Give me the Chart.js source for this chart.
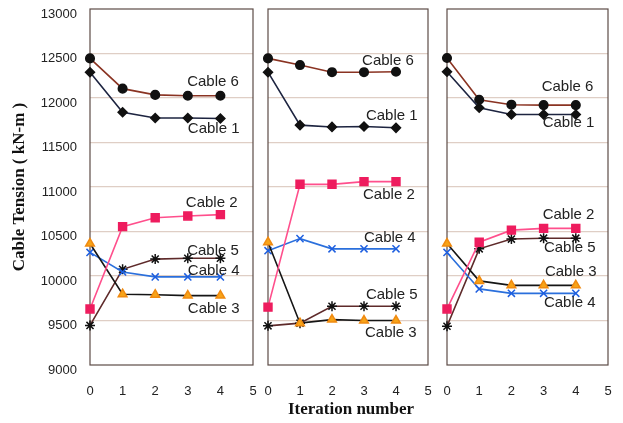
<!DOCTYPE html>
<html>
<head>
<meta charset="utf-8">
<script src="https://cdn.jsdelivr.net/npm/chart.js@4/dist/chart.umd.min.js"></script>
<style>
  html, body { margin: 0; padding: 0; background: #ffffff; }
  #wrap { position: relative; width: 623px; height: 423px; overflow: hidden; background: #ffffff; }
  canvas { position: absolute; top: 0; }
  #xtitle {
    position: absolute; top: 399px; left: 351px; transform: translateX(-50%);
    font-family: "Liberation Serif", "DejaVu Serif", serif; font-weight: bold; font-size: 17px;
    color: #111; white-space: nowrap;
  }
</style>
</head>
<body>
<div id="wrap">
  <canvas id="c1" width="263" height="423" style="left:0px"></canvas>
  <canvas id="c2" width="180" height="423" style="left:258px"></canvas>
  <canvas id="c3" width="181" height="423" style="left:437px"></canvas>
  <div id="xtitle">Iteration number</div>
</div>
<script>
// Iteration steps and axis ticks
const iterations = [0, 1, 2, 3, 4];
const xTickValues = [0, 1, 2, 3, 4, 5];
const yTickValues = [9000, 9500, 10000, 10500, 11000, 11500, 12000, 12500, 13000];
const cableNames = ['Cable 1', 'Cable 2', 'Cable 3', 'Cable 4', 'Cable 5', 'Cable 6'];

// Cable tensions (kN-m), left panel
const p1Cable1 = [12290, 11840, 11775, 11775, 11770];
const p1Cable2 = [9630, 10555, 10655, 10675, 10690];
const p1Cable3 = [10365, 9795, 9790, 9780, 9780];
const p1Cable4 = [10265, 10045, 9990, 9990, 9990];
const p1Cable5 = [9445, 10075, 10190, 10200, 10200];
const p1Cable6 = [12445, 12105, 12035, 12025, 12025];

// Cable tensions (kN-m), middle panel
const p2Cable1 = [12290, 11695, 11675, 11680, 11665];
const p2Cable2 = [9650, 11030, 11030, 11060, 11060];
const p2Cable3 = [10380, 9470, 9510, 9500, 9500];
const p2Cable4 = [10285, 10420, 10305, 10305, 10305];
const p2Cable5 = [9440, 9470, 9660, 9660, 9660];
const p2Cable6 = [12445, 12370, 12290, 12290, 12295];

// Cable tensions (kN-m), right panel
const p3Cable1 = [12295, 11890, 11815, 11815, 11815];
const p3Cable2 = [9630, 10380, 10515, 10535, 10535];
const p3Cable3 = [10365, 9945, 9895, 9895, 9895];
const p3Cable4 = [10265, 9855, 9805, 9805, 9805];
const p3Cable5 = [9435, 10305, 10415, 10425, 10425];
const p3Cable6 = [12450, 11980, 11925, 11920, 11920];

// Where each cable name is written, in axis units (iteration, kN-m)
const labelSpots = [
  { 'Cable 6': [2.98, 12180], 'Cable 1': [3.0, 11652], 'Cable 2': [2.94, 10820],
    'Cable 5': [2.98, 10284], 'Cable 4': [3.0, 10060], 'Cable 3': [3.0, 9629] },
  { 'Cable 6': [2.94, 12419], 'Cable 1': [3.06, 11798], 'Cable 2': [2.97, 10910],
    'Cable 4': [3.0, 10424], 'Cable 5': [3.06, 9787], 'Cable 3': [3.03, 9360] },
  { 'Cable 6': [2.94, 12120], 'Cable 1': [2.97, 11716], 'Cable 2': [2.97, 10685],
    'Cable 5': [3.01, 10311], 'Cable 3': [3.04, 10048], 'Cable 4': [3.01, 9693] }
];

// Line and marker look for each cable
const cableStyles = {
  'Cable 1': { line: '#1d2440', pointStyle: 'rectRot', radius: 4.5, fill: '#111111', edge: '#111111' },
  'Cable 2': { line: '#ff4f8c', pointStyle: 'rect', radius: 5.6, fill: '#ee1c5e', edge: '#ee1c5e' },
  'Cable 3': { line: '#151515', pointStyle: 'triangle', radius: 5, fill: '#f7a418', edge: '#f08a10' },
  'Cable 4': { line: '#2a6fdc', pointStyle: 'crossRot', radius: 5, fill: '#1e5fe0', edge: '#1e5fe0' },
  'Cable 5': { line: '#5e2a2a', pointStyle: 'star', radius: 5, fill: '#111111', edge: '#111111' },
  'Cable 6': { line: '#8a3322', pointStyle: 'circle', radius: 4.3, fill: '#111111', edge: '#111111' }
};

const panels = [
  [p1Cable1, p1Cable2, p1Cable3, p1Cable4, p1Cable5, p1Cable6],
  [p2Cable1, p2Cable2, p2Cable3, p2Cable4, p2Cable5, p2Cable6],
  [p3Cable1, p3Cable2, p3Cable3, p3Cable4, p3Cable5, p3Cable6]
];

const sansFont = '"Liberation Sans", Arial, sans-serif';

// Frame around each plotting area
const frame = {
  id: 'frame',
  beforeDatasetsDraw(chart) {
    const a = chart.chartArea, ctx = chart.ctx;
    ctx.save();
    ctx.strokeStyle = '#5d4b47';
    ctx.lineWidth = 1.2;
    ctx.strokeRect(a.left, a.top, a.right - a.left, a.bottom - a.top);
    ctx.restore();
  }
};

// Cable names written beside their lines
const cableLabels = {
  id: 'cableLabels',
  afterDatasetsDraw(chart, args, opts) {
    const ctx = chart.ctx, xs = chart.scales.x, ys = chart.scales.y;
    ctx.save();
    ctx.font = '15px ' + sansFont;
    ctx.fillStyle = '#222222';
    ctx.textAlign = 'left';
    ctx.textBaseline = 'middle';
    Object.entries(opts.spots).forEach(([name, pos]) => {
      ctx.fillText(name, xs.getPixelForValue(pos[0]), ys.getPixelForValue(pos[1]));
    });
    ctx.restore();
  }
};

function makePanel(canvasId, series, spots, withAxis) {
  const datasets = series.map((vals, i) => {
    const name = cableNames[i];
    const s = cableStyles[name];
    return {
      label: name,
      data: iterations.map((it, k) => ({ x: it, y: vals[k] })),
      borderColor: s.line,
      borderWidth: 1.6,
      pointStyle: s.pointStyle,
      pointRadius: s.radius,
      pointBackgroundColor: s.fill,
      pointBorderColor: s.edge,
      pointBorderWidth: 1.5,
      tension: 0,
      clip: false
    };
  });
  return new Chart(document.getElementById(canvasId), {
    type: 'line',
    data: { datasets },
    options: {
      responsive: false,
      animation: false,
      devicePixelRatio: 1,
      layout: { padding: { top: 9, right: 10, left: withAxis ? 0 : 10, bottom: 0 } },
      plugins: {
        legend: { display: false },
        tooltip: { enabled: false },
        cableLabels: { spots }
      },
      scales: {
        x: {
          type: 'linear',
          min: 0, max: 5,
          afterBuildTicks: sc => { sc.ticks = xTickValues.map(v => ({ value: v })); },
          afterFit: sc => { sc.height = 58; },
          grid: { display: true, drawOnChartArea: false, drawTicks: true, tickLength: 18, tickColor: 'rgba(0,0,0,0)' },
          border: { display: false },
          ticks: { padding: 1, color: '#222', font: { family: sansFont, size: 13 } }
        },
        y: {
          type: 'linear',
          min: 9000, max: 13000,
          afterBuildTicks: sc => { sc.ticks = yTickValues.map(v => ({ value: v })); },
          afterFit: sc => { sc.width = withAxis ? 90 : 0; },
          grid: {
            drawTicks: true,
            tickLength: 13,
            tickColor: 'rgba(0,0,0,0)',
            color: c => (c.tick && (c.tick.value === 9000 || c.tick.value === 13000))
              ? 'rgba(0,0,0,0)' : 'rgba(196,165,150,0.55)',
            lineWidth: 1.2
          },
          border: { display: false },
          ticks: {
            display: withAxis,
            padding: 0,
            labelOffset: 5,
            color: '#222',
            font: { family: sansFont, size: 13 },
            callback: v => String(v)
          },
          title: {
            display: withAxis,
            text: 'Cable Tension ( kN-m )',
            color: '#111',
            padding: { top: 9, bottom: 0 },
            font: { family: '"Liberation Serif", "DejaVu Serif", serif', size: 17, weight: 'bold' }
          }
        }
      }
    },
    plugins: [frame, cableLabels]
  });
}

makePanel('c1', panels[0], labelSpots[0], true);
makePanel('c2', panels[1], labelSpots[1], false);
makePanel('c3', panels[2], labelSpots[2], false);
</script>
</body>
</html>
